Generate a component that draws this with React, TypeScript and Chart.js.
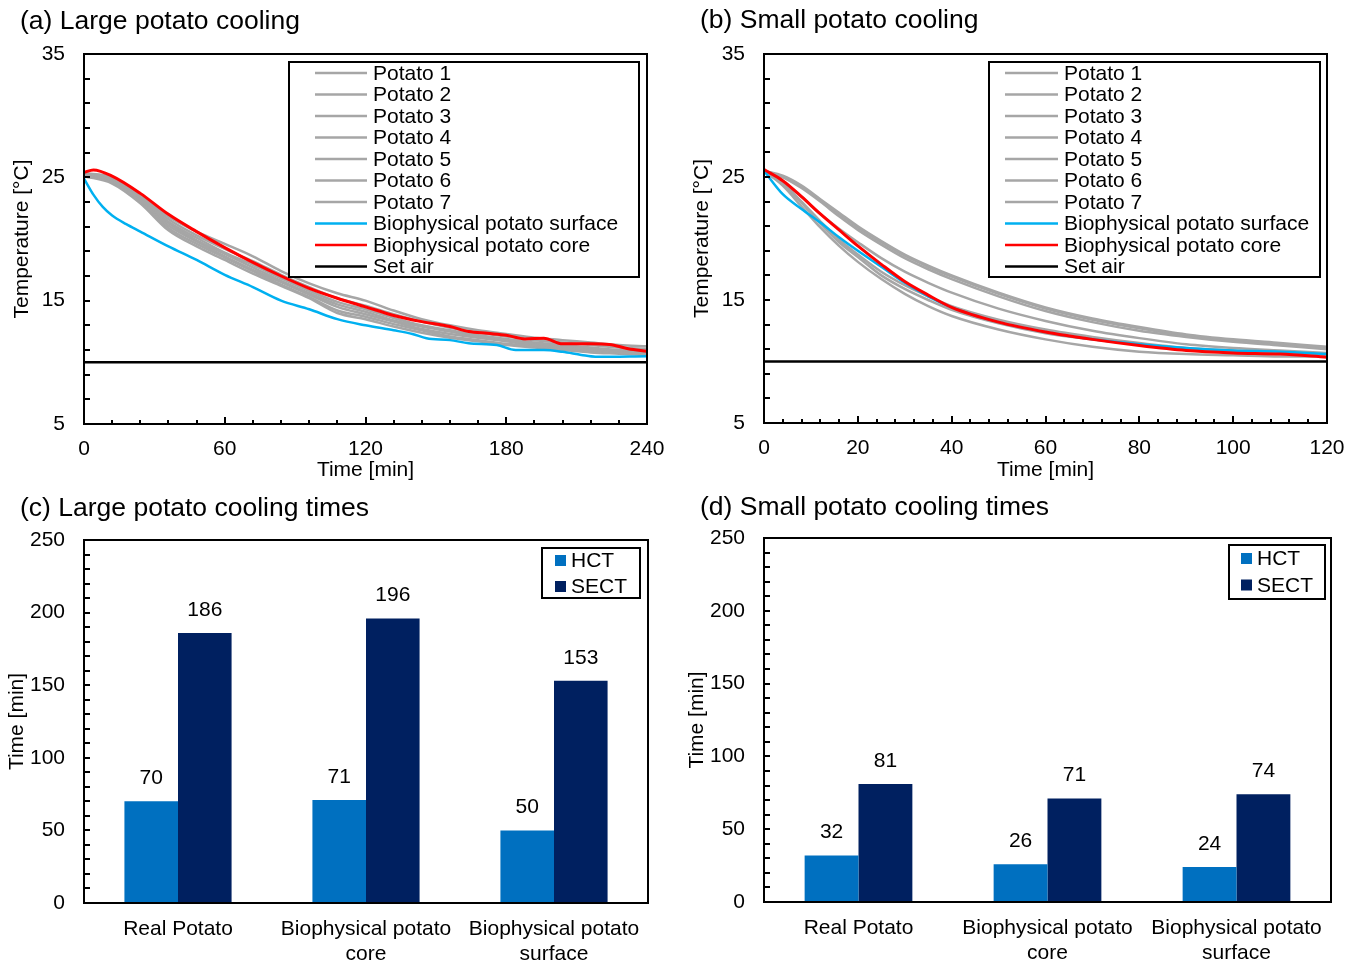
import React, { useEffect, useRef } from "react";
import { Chart, registerables } from "chart.js";

Chart.register(...registerables);

const FONT_FAMILY = 'Arial, "Liberation Sans", Helvetica, sans-serif';
Chart.defaults.font.family = FONT_FAMILY;
Chart.defaults.color = "#000";

// ---------------- (a) Large potato cooling ----------------
const largeTime = [0, 12, 24, 36, 48, 60, 72, 84, 96, 108, 120, 132, 144, 156, 168, 180, 192, 204, 216, 228, 240];
const largePotato1 = [25.35, 25.0, 23.5, 21.8, 20.6, 19.6, 18.6, 17.4, 16.4, 15.6, 15.0, 14.2, 13.5, 13.0, 12.6, 12.3, 12.0, 11.8, 11.6, 11.4, 11.3];
const largePotato2 = [25.3, 24.9, 23.4, 21.6, 20.3, 19.2, 18.2, 17.1, 16.1, 15.2, 14.6, 13.9, 13.3, 12.8, 12.4, 12.1, 11.8, 11.6, 11.4, 11.2, 11.1];
const largePotato3 = [25.25, 24.8, 23.3, 21.4, 20.1, 18.9, 17.9, 16.8, 15.8, 14.9, 14.3, 13.6, 13.0, 12.6, 12.2, 11.9, 11.6, 11.4, 11.2, 11.0, 10.9];
const largePotato4 = [25.2, 24.8, 23.2, 21.3, 19.9, 18.8, 17.7, 16.6, 15.6, 14.7, 14.1, 13.4, 12.9, 12.5, 12.1, 11.8, 11.5, 11.3, 11.1, 10.9, 10.8];
const largePotato5 = [25.2, 24.7, 23.1, 21.1, 19.8, 18.6, 17.5, 16.5, 15.5, 14.5, 13.9, 13.3, 12.7, 12.3, 12.0, 11.7, 11.4, 11.2, 11.0, 10.8, 10.7];
const largePotato6 = [25.15, 24.6, 23.0, 20.9, 19.6, 18.5, 17.4, 16.3, 15.3, 14.2, 13.7, 13.1, 12.6, 12.1, 11.8, 11.5, 11.3, 11.1, 10.9, 10.8, 10.7];
const largePotato7 = [25.1, 24.5, 22.9, 20.7, 19.4, 18.3, 17.2, 16.2, 15.2, 14.0, 13.5, 12.9, 12.4, 12.0, 11.7, 11.4, 11.2, 11.0, 10.8, 10.7, 10.6];
const largeCoreTime = [0, 4, 12, 24, 36, 48, 60, 72, 84, 96, 108, 120, 132, 144, 156, 164, 172, 180, 188, 196, 204, 216, 224, 232, 240];
const largeCore = [25.4, 25.6, 25.1, 23.7, 22.0, 20.6, 19.3, 18.1, 17.0, 16.0, 15.2, 14.5, 13.8, 13.3, 12.9, 12.5, 12.35, 12.2, 11.9, 11.95, 11.5, 11.5, 11.45, 11.1, 10.9];
const largeSurfaceTime = [0, 4, 8, 12, 18, 24, 36, 48, 60, 72, 84, 96, 108, 120, 132, 140, 146, 156, 164, 176, 184, 196, 204, 212, 218, 240];
const largeSurface = [24.9, 23.6, 22.6, 21.9, 21.2, 20.6, 19.4, 18.3, 17.1, 16.1, 15.0, 14.3, 13.5, 13.0, 12.6, 12.3, 11.95, 11.8, 11.55, 11.4, 11.0, 11.0, 10.85, 10.6, 10.45, 10.5];
const largeAirTime = [0, 240];
const largeAir = [10, 10];

// ---------------- (b) Small potato cooling ----------------
const smallTime = [0, 4, 8, 12, 16, 20, 25, 30, 35, 40, 50, 60, 70, 80, 90, 100, 110, 120];
const smallPotato1 = [25.5, 25.1, 24.3, 23.2, 22.1, 21.0, 19.8, 18.7, 17.8, 17.0, 15.6, 14.4, 13.5, 12.8, 12.2, 11.8, 11.5, 11.2];
const smallPotato2 = [25.5, 25.0, 24.2, 23.1, 22.0, 20.9, 19.7, 18.6, 17.7, 16.9, 15.5, 14.3, 13.4, 12.7, 12.1, 11.7, 11.4, 11.1];
const smallPotato3 = [25.5, 25.0, 24.1, 23.0, 21.8, 20.7, 19.5, 18.4, 17.5, 16.7, 15.3, 14.1, 13.2, 12.5, 12.0, 11.6, 11.3, 11.0];
const smallPotato4 = [25.5, 24.6, 23.4, 22.0, 20.8, 19.7, 18.4, 17.3, 16.4, 15.6, 14.3, 13.3, 12.5, 11.9, 11.4, 11.1, 10.9, 10.7];
const smallPotato5 = [25.5, 24.5, 23.0, 21.4, 19.9, 18.7, 17.3, 16.2, 15.3, 14.5, 13.4, 12.6, 12.0, 11.5, 11.1, 10.9, 10.7, 10.6];
const smallPotato6 = [25.5, 24.4, 22.9, 21.2, 19.7, 18.5, 17.0, 15.9, 15.0, 14.2, 13.1, 12.3, 11.8, 11.4, 11.0, 10.8, 10.6, 10.5];
const smallPotato7 = [25.5, 24.3, 22.6, 20.9, 19.4, 18.1, 16.7, 15.5, 14.5, 13.7, 12.6, 11.8, 11.2, 10.8, 10.6, 10.5, 10.4, 10.4];
const smallCore = [25.6, 24.7, 23.4, 22.0, 20.7, 19.4, 17.9, 16.5, 15.4, 14.4, 13.2, 12.4, 11.8, 11.3, 10.9, 10.7, 10.6, 10.35];
const smallSurface = [25.5, 23.6, 22.4, 21.3, 20.1, 19.0, 17.7, 16.4, 15.3, 14.4, 13.2, 12.4, 11.8, 11.4, 11.1, 10.9, 10.8, 10.6];
const smallAirTime = [0, 120];
const smallAir = [10, 10];

// ---------------- (c) / (d) cooling times ----------------
const barCategories = [["Real Potato"], ["Biophysical potato", "core"], ["Biophysical potato", "surface"]];
const largeHCT = [70, 71, 50];
const largeSECT = [186, 196, 153];
const smallHCT = [32, 26, 24];
const smallSECT = [81, 71, 74];

const GRAY = "#A6A6A6";
const RED = "#FF0000";
const BLUE = "#00B0F0";
const HCT_COLOR = "#0070C0";
const SECT_COLOR = "#002060";

const pts = (xs: number[], ys: number[]) => xs.map((x, i) => ({ x, y: ys[i] }));

// ---------------- plugins ----------------
const framePlugin = {
  id: "frame",
  afterDatasetsDraw(chart: any, _args: any, o: any) {
    const { ctx, chartArea: ca, scales } = chart;
    ctx.save();
    ctx.strokeStyle = "#000";
    ctx.lineWidth = 2;
    ctx.beginPath();
    if (o.xStep) {
      const xs = scales.x;
      for (let v = xs.min; v <= xs.max + 1e-9; v += o.xStep) {
        const px = Math.round(xs.getPixelForValue(v));
        const r = v / o.xMajor;
        const len = Math.abs(r - Math.round(r)) < 1e-6 ? o.xMajorLen : o.xMinorLen;
        ctx.moveTo(px, ca.bottom);
        ctx.lineTo(px, ca.bottom - len);
      }
    }
    if (o.yStep) {
      const ys = scales.y;
      for (let v = ys.min; v <= ys.max + 1e-9; v += o.yStep) {
        const py = Math.round(ys.getPixelForValue(v));
        ctx.moveTo(ca.left, py);
        ctx.lineTo(ca.left + o.yLen, py);
      }
    }
    ctx.stroke();
    ctx.strokeRect(ca.left, ca.top, ca.right - ca.left, ca.bottom - ca.top);
    ctx.restore();
  },
};

const boxLegendPlugin = {
  id: "boxLegend",
  afterDraw(chart: any, _args: any, o: any) {
    const { ctx } = chart;
    ctx.save();
    ctx.fillStyle = "#fff";
    ctx.fillRect(o.x, o.y, o.w, o.h);
    ctx.strokeStyle = "#000";
    ctx.lineWidth = 2;
    ctx.strokeRect(o.x, o.y, o.w, o.h);
    ctx.font = `${o.fontSize}px ${FONT_FAMILY}`;
    ctx.textBaseline = "middle";
    ctx.textAlign = "left";
    chart.data.datasets.forEach((ds: any, i: number) => {
      const cy = o.rowY + i * o.rowStep;
      if (o.kind === "line") {
        ctx.strokeStyle = ds.borderColor;
        ctx.lineWidth = 2.5;
        ctx.beginPath();
        ctx.moveTo(o.markX1, cy);
        ctx.lineTo(o.markX2, cy);
        ctx.stroke();
      } else {
        ctx.fillStyle = ds.backgroundColor;
        ctx.fillRect(o.markX1, cy - o.markSize / 2, o.markSize, o.markSize);
      }
      ctx.fillStyle = "#000";
      ctx.fillText(ds.label, o.textX, cy + 1);
    });
    ctx.restore();
  },
};

const panelTitlePlugin = {
  id: "panelTitle",
  afterDraw(chart: any, _args: any, o: any) {
    const { ctx } = chart;
    ctx.save();
    ctx.font = `${o.size}px ${FONT_FAMILY}`;
    ctx.fillStyle = "#000";
    ctx.textAlign = "left";
    ctx.textBaseline = "alphabetic";
    ctx.fillText(o.text, o.x, o.y);
    ctx.restore();
  },
};

const valueLabelPlugin = {
  id: "valueLabels",
  afterDatasetsDraw(chart: any, _args: any, o: any) {
    const { ctx } = chart;
    ctx.save();
    ctx.font = `${o.fontSize}px ${FONT_FAMILY}`;
    ctx.fillStyle = "#000";
    ctx.textAlign = "center";
    ctx.textBaseline = "middle";
    chart.data.datasets.forEach((ds: any, di: number) => {
      const meta = chart.getDatasetMeta(di);
      meta.data.forEach((el: any, i: number) => {
        ctx.fillText(String(ds.data[i]), el.x, el.y - o.offset);
      });
    });
    ctx.restore();
  },
};

const FS = 21;
const TITLE_FS = 26.5;

function lineDataset(label: string, data: any[], color: string, width: number, order: number) {
  return {
    label,
    data,
    borderColor: color,
    backgroundColor: color,
    borderWidth: width,
    pointRadius: 0,
    cubicInterpolationMode: "monotone",
    fill: false,
    order,
  };
}

function lineConfig(p: any) {
  return {
    type: "line",
    data: { datasets: p.datasets },
    plugins: [framePlugin, boxLegendPlugin, panelTitlePlugin],
    options: {
      responsive: false,
      animation: false,
      devicePixelRatio: 1,
      layout: { padding: { left: 0, top: p.top, right: p.right, bottom: 0 } },
      scales: {
        x: {
          type: "linear",
          min: 0,
          max: p.xMax,
          afterFit: (s: any) => {
            s.height = p.xHeight;
          },
          ticks: { stepSize: p.xLabelStep, padding: 13, color: "#000", font: { size: FS }, maxRotation: 0, autoSkip: false },
          grid: { display: false, drawTicks: false, tickLength: 0 },
          border: { display: false },
          title: { display: true, text: "Time [min]", color: "#000", font: { size: FS, lineHeight: 1.2 }, padding: { top: 0, bottom: 0 } },
        },
        y: {
          type: "linear",
          min: 5,
          max: 35,
          afterFit: (s: any) => {
            s.width = 84;
          },
          ticks: { stepSize: 10, padding: 19, color: "#000", font: { size: FS } },
          grid: { display: false, drawTicks: false, tickLength: 0 },
          border: { display: false },
          title: { display: true, text: "Temperature [°C]", color: "#000", font: { size: FS, lineHeight: 1.2 }, padding: { top: 10, bottom: 0 } },
        },
      },
      plugins: {
        legend: { display: false },
        tooltip: { enabled: false },
        frame: { xStep: p.xTickStep, xMajor: p.xLabelStep, xMajorLen: 7, xMinorLen: 4, yStep: 2, yLen: 6 },
        boxLegend: p.legend,
        panelTitle: p.title,
      },
    },
  };
}

function barConfig(p: any) {
  return {
    type: "bar",
    data: {
      labels: barCategories,
      datasets: [
        { label: "HCT", data: p.hct, backgroundColor: HCT_COLOR, borderWidth: 0, barPercentage: 1, categoryPercentage: 0.57 },
        { label: "SECT", data: p.sect, backgroundColor: SECT_COLOR, borderWidth: 0, barPercentage: 1, categoryPercentage: 0.57 },
      ],
    },
    plugins: [framePlugin, boxLegendPlugin, panelTitlePlugin, valueLabelPlugin],
    options: {
      responsive: false,
      animation: false,
      devicePixelRatio: 1,
      layout: { padding: { left: 0, top: p.top, right: p.right, bottom: 0 } },
      scales: {
        x: {
          afterFit: (s: any) => {
            s.height = p.xHeight;
          },
          ticks: { padding: 14.5, color: "#000", font: { size: FS, lineHeight: 1.16 }, maxRotation: 0, autoSkip: false },
          grid: { display: false, drawTicks: false, tickLength: 0 },
          border: { display: false },
        },
        y: {
          min: 0,
          max: 250,
          afterFit: (s: any) => {
            s.width = 84;
          },
          ticks: { stepSize: 50, padding: 19, color: "#000", font: { size: FS } },
          grid: { display: false, drawTicks: false, tickLength: 0 },
          border: { display: false },
          title: { display: true, text: "Time [min]", color: "#000", font: { size: FS, lineHeight: 1.2 }, padding: { top: 5, bottom: 0 } },
        },
      },
      plugins: {
        legend: { display: false },
        tooltip: { enabled: false },
        frame: { yStep: 10, yLen: 6 },
        boxLegend: p.legend,
        panelTitle: p.title,
        valueLabels: { fontSize: FS, offset: 23 },
      },
    },
  };
}

function largeLineDatasets() {
  const potatoes = [largePotato1, largePotato2, largePotato3, largePotato4, largePotato5, largePotato6, largePotato7];
  return [
    ...potatoes.map((d, i) => lineDataset(`Potato ${i + 1}`, pts(largeTime, d), GRAY, 2.5, 3)),
    lineDataset("Biophysical potato surface", pts(largeSurfaceTime, largeSurface), BLUE, 2.5, 1),
    lineDataset("Biophysical potato core", pts(largeCoreTime, largeCore), RED, 3, 0),
    lineDataset("Set air", pts(largeAirTime, largeAir), "#000", 2.5, 2),
  ];
}

function smallLineDatasets() {
  const potatoes = [smallPotato1, smallPotato2, smallPotato3, smallPotato4, smallPotato5, smallPotato6, smallPotato7];
  return [
    ...potatoes.map((d, i) => lineDataset(`Potato ${i + 1}`, pts(smallTime, d), GRAY, 2.5, 3)),
    lineDataset("Biophysical potato surface", pts(smallTime, smallSurface), BLUE, 2.5, 1),
    lineDataset("Biophysical potato core", pts(smallTime, smallCore), RED, 3, 0),
    lineDataset("Set air", pts(smallAirTime, smallAir), "#000", 2.5, 2),
  ];
}

const panels = [
  {
    left: 0,
    top: 0,
    width: 680,
    height: 483,
    config: () =>
      lineConfig({
        datasets: largeLineDatasets(),
        xMax: 240,
        xLabelStep: 60,
        xTickStep: 12,
        top: 54,
        right: 33,
        xHeight: 59,
        legend: { kind: "line", x: 289, y: 62, w: 350, h: 215, markX1: 315, markX2: 367, textX: 373, rowY: 73, rowStep: 21.5, fontSize: FS },
        title: { text: "(a) Large potato cooling", x: 20, y: 29, size: TITLE_FS },
      }),
  },
  {
    left: 680,
    top: 0,
    width: 679,
    height: 483,
    config: () =>
      lineConfig({
        datasets: smallLineDatasets(),
        xMax: 120,
        xLabelStep: 20,
        xTickStep: 4,
        top: 54,
        right: 32,
        xHeight: 60,
        legend: { kind: "line", x: 309, y: 62, w: 331, h: 215, markX1: 325, markX2: 378, textX: 384, rowY: 73, rowStep: 21.5, fontSize: FS },
        title: { text: "(b) Small potato cooling", x: 20, y: 28, size: TITLE_FS },
      }),
  },
  {
    left: 0,
    top: 483,
    width: 680,
    height: 483,
    config: () =>
      barConfig({
        hct: largeHCT,
        sect: largeSECT,
        top: 57,
        right: 32,
        xHeight: 63,
        legend: { kind: "box", x: 542, y: 65, w: 98, h: 50, markX1: 555, markSize: 11, textX: 571, rowY: 77.5, rowStep: 26, fontSize: FS },
        title: { text: "(c) Large potato cooling times", x: 20, y: 33, size: TITLE_FS },
      }),
  },
  {
    left: 680,
    top: 483,
    width: 679,
    height: 483,
    config: () =>
      barConfig({
        hct: smallHCT,
        sect: smallSECT,
        top: 55,
        right: 28,
        xHeight: 64,
        legend: { kind: "box", x: 549, y: 62, w: 96, h: 54, markX1: 561, markSize: 11, textX: 577, rowY: 75.5, rowStep: 26.5, fontSize: FS },
        title: { text: "(d) Small potato cooling times", x: 20, y: 32, size: TITLE_FS },
      }),
  },
];

function ChartPanel({ left, top, width, height, config }: any) {
  const ref = useRef<HTMLCanvasElement>(null);
  useEffect(() => {
    const chart = new Chart(ref.current as HTMLCanvasElement, config() as any);
    return () => chart.destroy();
  }, []);
  return (
    <div style={{ position: "absolute", left, top, width, height }}>
      <canvas ref={ref} width={width} height={height} style={{ display: "block", width, height }} />
    </div>
  );
}

export default function App() {
  return (
    <div style={{ position: "absolute", left: 0, top: 0, width: 1359, height: 966, background: "#fff" }}>
      {panels.map((p, i) => (
        <ChartPanel key={i} {...p} />
      ))}
    </div>
  );
}
